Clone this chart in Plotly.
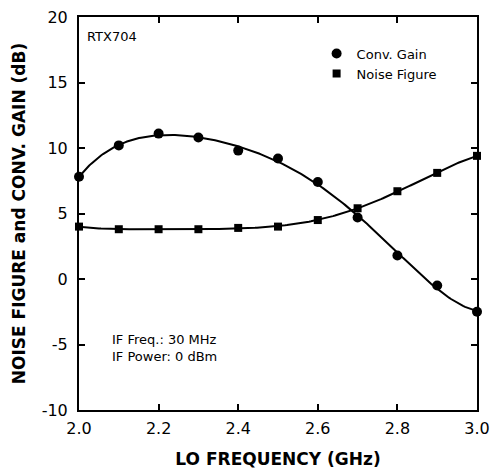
import numpy as np
import plotly.graph_objects as go

# LO frequency sweep (GHz)
lo_freq = [2.0, 2.1, 2.2, 2.3, 2.4, 2.5, 2.6, 2.7, 2.8, 2.9, 3.0]
# Measured conversion gain (dB)
conv_gain = [7.8, 10.2, 11.1, 10.8, 9.8, 9.2, 7.4, 4.7, 1.8, -0.5, -2.5]
# Measured noise figure (dB)
noise_figure = [4.0, 3.8, 3.8, 3.8, 3.9, 4.0, 4.5, 5.4, 6.7, 8.1, 9.4]

x_ticks = [2.0, 2.2, 2.4, 2.6, 2.8, 3.0]
y_ticks = [-10, -5, 0, 5, 10, 15, 20]

# Smooth trend curves fitted through the measurements
xf = np.linspace(lo_freq[0], lo_freq[-1], 200)
gain_fit = np.polyval(np.polyfit(lo_freq, conv_gain, 5), xf)
nf_fit = np.polyval(np.polyfit(lo_freq, noise_figure, 5), xf)

fig = go.Figure()
fig.add_trace(go.Scatter(x=xf, y=gain_fit, mode="lines",
                         line=dict(color="black", width=2), showlegend=False,
                         cliponaxis=False))
fig.add_trace(go.Scatter(x=xf, y=nf_fit, mode="lines",
                         line=dict(color="black", width=2), showlegend=False,
                         cliponaxis=False))
fig.add_trace(go.Scatter(x=lo_freq, y=conv_gain, mode="markers", name="Conv. Gain",
                         marker=dict(symbol="circle", size=10, color="black"),
                         cliponaxis=False))
fig.add_trace(go.Scatter(x=lo_freq, y=noise_figure, mode="markers", name="Noise Figure",
                         marker=dict(symbol="square", size=8, color="black"),
                         cliponaxis=False))

font_family = "DejaVu Sans, Arial, sans-serif"
axis_common = dict(showline=True, linecolor="black", linewidth=2, mirror="allticks",
                   ticks="inside", ticklen=6, tickwidth=1.5, tickcolor="black",
                   showgrid=False, zeroline=False, automargin=False,
                   tickfont=dict(family=font_family, size=16, color="black"))

fig.update_xaxes(range=[2.0, 3.0], tickvals=x_ticks,
                 ticktext=[f"{v:.1f}" for v in x_ticks], ticklabelstandoff=3,
                 title=dict(text="<b>LO FREQUENCY (GHz)</b>",
                            font=dict(family=font_family, size=17, color="black"),
                            standoff=18),
                 **axis_common)
fig.update_yaxes(range=[-10, 20], tickvals=y_ticks,
                 ticktext=[str(v) for v in y_ticks], ticklabelstandoff=6,
                 title=dict(text="<b>NOISE FIGURE and CONV. GAIN (dB)</b>",
                            font=dict(family=font_family, size=17, color="black"),
                            standoff=12),
                 **axis_common)

fig.add_annotation(x=0.015, y=0.95, xref="paper", yref="paper", text="RTX704",
                   showarrow=False, xanchor="left", yanchor="middle",
                   font=dict(family=font_family, size=13, color="black"))
fig.add_annotation(x=0.078, y=0.158, xref="paper", yref="paper",
                   text="IF Freq.: 30 MHz<br>IF Power: 0 dBm",
                   showarrow=False, xanchor="left", yanchor="middle", align="left",
                   font=dict(family=font_family, size=13, color="black"))

fig.update_layout(
    width=494, height=469,
    margin=dict(l=79, r=17, t=17, b=59),
    paper_bgcolor="white", plot_bgcolor="white",
    font=dict(family=font_family, color="black"),
    legend=dict(x=0.597, y=0.945, xanchor="left", yanchor="top",
                bgcolor="rgba(0,0,0,0)", tracegroupgap=0, itemwidth=30,
                font=dict(family=font_family, size=13, color="black")),
)

fig.write_html("out.html")
